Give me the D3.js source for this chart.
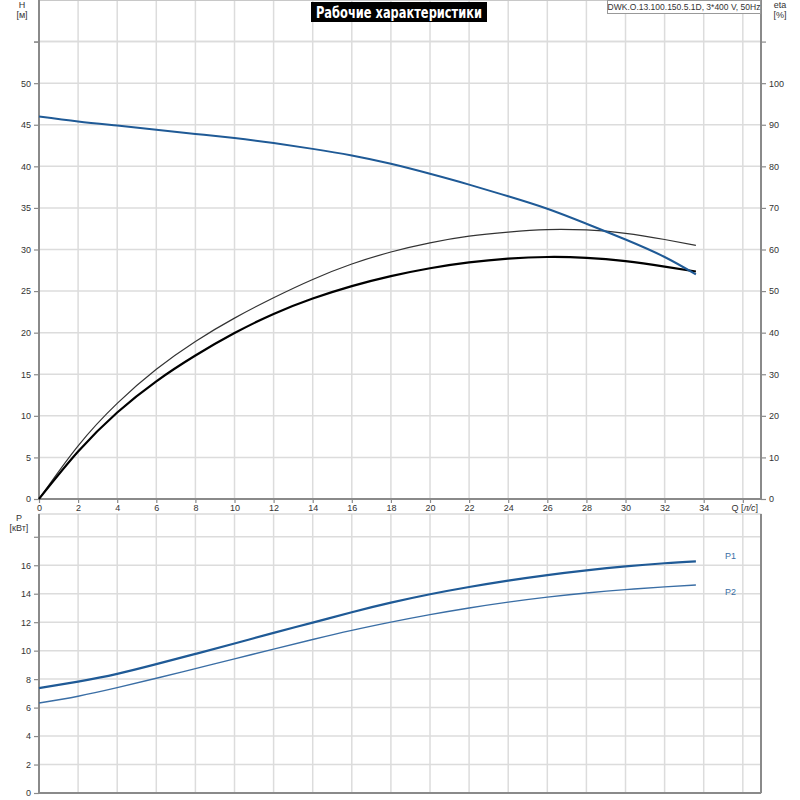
<!DOCTYPE html>
<html>
<head>
<meta charset="utf-8">
<script src="https://cdn.jsdelivr.net/npm/d3@7"></script>
<style>
  body { margin: 0; background: #fff; }
  text { font-family: "Liberation Sans", Arial, sans-serif; }
</style>
</head>
<body>
<svg></svg>
<script>
const width = 800;
const height = 800;
const svg = d3.select("svg").attr("width", width).attr("height", height);

// flow, l/s
const flow = [0, 2, 4, 6, 8, 10, 12, 14, 16, 18, 20, 22, 24, 26, 28, 30, 32, 33.6];
// head, m
const head = [46.0, 45.4, 44.9, 44.4, 43.9, 43.4, 42.8, 42.1, 41.3, 40.3, 39.1, 37.8, 36.4, 34.9, 33.1, 31.2, 29.1, 27.0];
// efficiencies, %
const etaPump = [0, 12.8, 23.0, 31.2, 37.9, 43.5, 48.4, 52.8, 56.5, 59.4, 61.6, 63.2, 64.2, 64.8, 64.7, 63.9, 62.4, 61.0];
const etaTotal = [0, 11.4, 20.8, 28.3, 34.5, 39.9, 44.5, 48.2, 51.2, 53.6, 55.5, 56.9, 57.8, 58.2, 58.0, 57.2, 55.9, 54.7];
// power, kW
const powerP1 = [7.37, 7.83, 8.37, 9.05, 9.77, 10.5, 11.25, 11.97, 12.7, 13.37, 13.96, 14.47, 14.92, 15.31, 15.64, 15.92, 16.14, 16.27];
const powerP2 = [6.32, 6.80, 7.40, 8.06, 8.74, 9.42, 10.11, 10.78, 11.42, 12.0, 12.53, 13.0, 13.41, 13.76, 14.05, 14.29, 14.48, 14.61];

const xTicks = d3.range(0, 37, 2);
const headTicks = d3.range(0, 56, 5);
const etaTicks = d3.range(0, 111, 10);
const powerTicks = d3.range(0, 19, 2);

const title = "Рабочие характеристики";
const model = "DWK.O.13.100.150.5.1D, 3*400 V, 50Hz";

const left = 39, right = 761;
const top1 = 0, bottom1 = 499;
const top2 = 514, bottom2 = 793;

const x = d3.scaleLinear().domain([0, 36.93]).range([left, right]);
const yH = d3.scaleLinear().domain([0, 60]).range([bottom1, top1]);
const yEta = d3.scaleLinear().domain([0, 120]).range([bottom1, top1]);
const yP = d3.scaleLinear().domain([0, 19.6]).range([bottom2, top2]);

const gridColor = "#dcdcdc";
const axisColor = "#8a8a8a";
const blue = "#1f5a96";

function grid(yScale, yTicks, y0, y1) {
  const g = svg.append("g");
  g.selectAll(".vx").data(xTicks).join("line")
    .attr("x1", d => x(d)).attr("x2", d => x(d))
    .attr("y1", y0).attr("y2", y1)
    .attr("stroke", gridColor).attr("stroke-width", 1.5);
  g.selectAll(".hy").data(yTicks).join("line")
    .attr("x1", left).attr("x2", right)
    .attr("y1", d => yScale(d)).attr("y2", d => yScale(d))
    .attr("stroke", gridColor).attr("stroke-width", 1.5);
}

grid(yH, headTicks.concat([55]), top1, bottom1);
grid(yP, powerTicks, top2, bottom2);

function styleAxis(g) {
  g.selectAll(".domain").remove();
  g.selectAll(".tick line").attr("stroke", axisColor).attr("stroke-width", 1.2);
  g.selectAll(".tick text").attr("fill", "#333").style("font-size", "9px");
}

// frames
svg.append("rect").attr("x", left).attr("y", top1 + 0.5).attr("width", right - left).attr("height", bottom1 - top1 - 0.5)
  .attr("fill", "none").attr("stroke", "#c8c8c8").attr("stroke-width", 1);
svg.append("rect").attr("x", left).attr("y", top2).attr("width", right - left).attr("height", bottom2 - top2)
  .attr("fill", "none").attr("stroke", "#c8c8c8").attr("stroke-width", 1);

// top plot axes
svg.append("g").attr("transform", `translate(${left},0)`)
  .call(d3.axisLeft(yH).tickValues(headTicks.concat([55])).tickSize(5).tickPadding(3)
    .tickFormat(d => d === 55 ? "" : d))
  .call(styleAxis);
svg.append("g").attr("transform", `translate(${right},0)`)
  .call(d3.axisRight(yEta).tickValues(etaTicks).tickSize(5).tickPadding(3)
    .tickFormat(d => d === 110 ? "" : d))
  .call(styleAxis);
svg.append("g").attr("transform", `translate(0,${bottom1})`)
  .call(d3.axisBottom(x).tickValues(xTicks).tickSize(4).tickPadding(2)
    .tickFormat(d => d === 36 ? "" : d))
  .call(styleAxis);

// bottom plot axes
svg.append("g").attr("transform", `translate(${left},0)`)
  .call(d3.axisLeft(yP).tickValues(powerTicks).tickSize(5).tickPadding(3)
    .tickFormat(d => d === 18 ? "" : d))
  .call(styleAxis);

// axis lines
[[left, top1, left, bottom1], [right, top1, right, bottom1], [left, bottom1, right, bottom1],
 [left, top2, left, bottom2], [left, bottom2, right, bottom2], [right, top2, right, bottom2]]
  .forEach(([x1, y1, x2, y2]) => {
    svg.append("line").attr("x1", x1).attr("y1", y1).attr("x2", x2).attr("y2", y2)
      .attr("stroke", axisColor).attr("stroke-width", 2);
  });

// axis titles
const lab = svg.append("g").attr("fill", "#333").style("font-size", "9px").attr("text-anchor", "middle");
lab.append("text").attr("x", 22).attr("y", 8).text("H");
lab.append("text").attr("x", 22).attr("y", 18).text("[м]");
lab.append("text").attr("x", 780).attr("y", 8).text("eta");
lab.append("text").attr("x", 780).attr("y", 18).text("[%]");
lab.append("text").attr("x", 19).attr("y", 521).text("P");
lab.append("text").attr("x", 19).attr("y", 531).text("[кВт]");
const qLab = lab.append("text").attr("x", 758).attr("y", 511).attr("text-anchor", "end");
qLab.append("tspan").text("Q [");
qLab.append("tspan").style("font-style", "italic").text("л/с");
qLab.append("tspan").text("]");

// curves
const pts = ys => flow.map((q, i) => [q, ys[i]]);
const line = yScale => d3.line().x(d => x(d[0])).y(d => yScale(d[1])).curve(d3.curveNatural);

svg.append("path").datum(pts(etaPump)).attr("d", line(yEta))
  .attr("fill", "none").attr("stroke", "#333").attr("stroke-width", 1.2);
svg.append("path").datum(pts(etaTotal)).attr("d", line(yEta))
  .attr("fill", "none").attr("stroke", "#000").attr("stroke-width", 2.2);
svg.append("path").datum(pts(head)).attr("d", line(yH))
  .attr("fill", "none").attr("stroke", blue).attr("stroke-width", 2);

svg.append("path").datum(pts(powerP1)).attr("d", line(yP))
  .attr("fill", "none").attr("stroke", blue).attr("stroke-width", 2.2);
svg.append("path").datum(pts(powerP2)).attr("d", line(yP))
  .attr("fill", "none").attr("stroke", "#3a6ea5").attr("stroke-width", 1.4);

svg.append("text").attr("x", 725).attr("y", 559).attr("fill", "#3a6ea5").style("font-size", "9px").text("P1");
svg.append("text").attr("x", 725).attr("y", 595).attr("fill", "#3a6ea5").style("font-size", "9px").text("P2");

// title box
svg.append("rect").attr("x", 311).attr("y", 2).attr("width", 176).attr("height", 20).attr("fill", "#000");
svg.append("text").attr("x", 399).attr("y", 17.5).attr("text-anchor", "middle")
  .attr("fill", "#fff").style("font-family", "'DejaVu Sans Condensed', 'DejaVu Sans', sans-serif")
  .style("font-size", "15px").style("font-weight", "bold")
  .attr("textLength", 166).attr("lengthAdjust", "spacingAndGlyphs").text(title);

// model box
svg.append("rect").attr("x", 607.5).attr("y", 0.5).attr("width", 153).attr("height", 13)
  .attr("fill", "#fff").attr("stroke", "#999");
svg.append("text").attr("x", 684).attr("y", 10).attr("text-anchor", "middle")
  .attr("fill", "#333").style("font-size", "8.5px").text(model);
</script>
</body>
</html>
